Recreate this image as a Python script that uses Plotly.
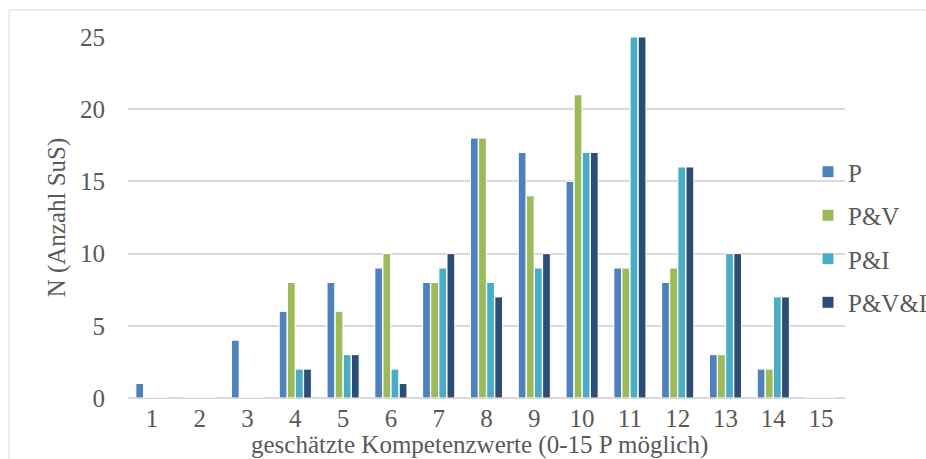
import plotly.graph_objects as go

categories = [str(i) for i in range(1, 16)]
series_names = ["P", "P&V", "P&I", "P&V&I"]
vals_P    = [1, 0, 4, 6, 8, 9, 8, 18, 17, 15, 9, 8, 3, 2, 0]
vals_PV   = [0, 0, 0, 8, 6, 10, 8, 18, 14, 21, 9, 9, 3, 2, 0]
vals_PI   = [0, 0, 0, 2, 3, 2, 9, 8, 9, 17, 25, 16, 10, 7, 0]
vals_PVI  = [0, 0, 0, 2, 3, 1, 10, 7, 10, 17, 25, 16, 10, 7, 0]
colors = ["#4F81BD", "#9BBB59", "#4BACC6", "#2C4D75"]
x_title = "geschätzte Kompetenzwerte (0-15 P möglich)"
y_title = "N (Anzahl SuS)"

FONT = "Times New Roman, Liberation Serif, serif"
FS = 25
TXT = "#595959"

fig = go.Figure()
for name, vals, col in zip(series_names, [vals_P, vals_PV, vals_PI, vals_PVI], colors):
    fig.add_trace(go.Bar(x=categories, y=vals, name=name, legendgroup=name,
                         marker=dict(color=col, line=dict(color="white", width=1))))

W, H = 926, 459
L, T = 128, 37
pw, ph = 717, 361
R, B = W - L - pw, H - T - ph

fig.update_layout(
    width=W, height=H,
    margin=dict(l=L, r=R, t=T, b=B, autoexpand=False),
    paper_bgcolor="white", plot_bgcolor="white",
    barmode="group", bargap=0.32, bargroupgap=0.05,
    font=dict(family=FONT, size=FS, color=TXT),
    showlegend=True,
    legend=dict(xref="container", yref="container",
                x=808 / W, y=1 - 237 / H, xanchor="left", yanchor="middle",
                font=dict(family=FONT, size=FS, color=TXT),
                bgcolor="rgba(0,0,0,0)", itemwidth=30, tracegroupgap=8),
    xaxis=dict(
        type="category", showgrid=False, showline=False, zeroline=False, automargin=False,
        ticks="", ticklabelstandoff=3,
        tickfont=dict(family=FONT, size=FS, color=TXT),
    ),
    yaxis=dict(
        range=[0, 25], dtick=5, showgrid=True, gridcolor="#D9D9D9", gridwidth=1.5,
        zeroline=True, zerolinecolor="#D9D9D9", zerolinewidth=1.5, showline=False, automargin=False,
        ticks="outside", ticklen=17, tickcolor="rgba(0,0,0,0)",
        tickfont=dict(family=FONT, size=FS, color=TXT),
        title=dict(text=y_title, font=dict(family=FONT, size=FS, color=TXT), standoff=7),
    ),
)

fig.add_annotation(text=x_title, xref="paper", yref="paper",
                   x=(479 - L) / pw, y=-(445 - 398) / ph,
                   xanchor="center", yanchor="middle", showarrow=False,
                   font=dict(family=FONT, size=FS, color=TXT))

fig.add_shape(type="rect", xref="paper", yref="paper",
              x0=(9 - L) / pw, x1=(940 - L) / pw,
              y0=-(470 - 398) / ph, y1=1 + (37 - 10) / ph,
              line=dict(color="#D9D9D9", width=1), fillcolor="rgba(0,0,0,0)", layer="below")

fig.write_html("out.html", config={"displayModeBar": False},
               post_script="document.body.style.margin='0';document.body.style.overflow='hidden';")
